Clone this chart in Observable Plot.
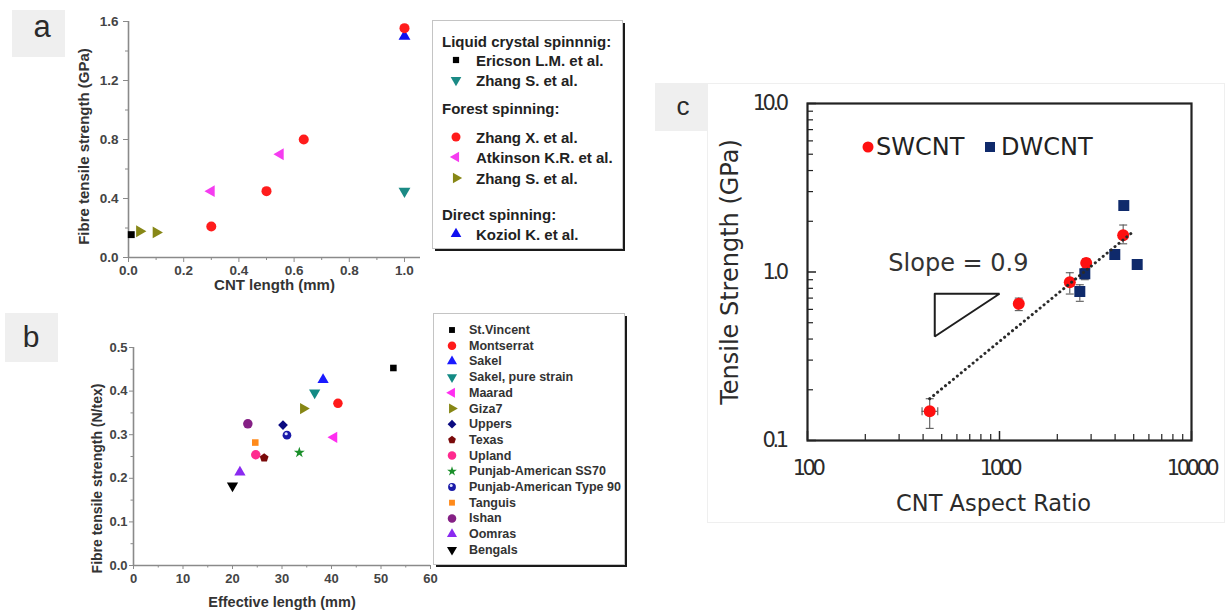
<!DOCTYPE html>
<html>
<head>
<meta charset="utf-8">
<script src="https://cdn.jsdelivr.net/npm/d3@7"></script>
<script src="https://cdn.jsdelivr.net/npm/@observablehq/plot@0.6"></script>
<style>
  html, body { margin: 0; padding: 0; background: #fff; }
  #fig { position: relative; width: 1225px; height: 611px; overflow: hidden; background: #fff; }
  #fig > svg { position: absolute; }
</style>
</head>
<body>
<div id="fig"></div>
<script>
// ---------- Panel a: CNT fibres — CNT length vs fibre tensile strength ----------
const aGroups = ["Liquid crystal spinnnig:", "Forest spinning:", "Direct spinning:"];
const aSeries = ["Ericson L.M. et al.", "Zhang S. et al.", "Zhang X. et al.", "Atkinson K.R. et al.", "Zhang S. et al.", "Koziol K. et al."];
const aSeriesGroup = [0, 0, 1, 1, 1, 2];
const aLength = [[0.01], [1.0], [0.3, 0.5, 0.635, 1.0], [0.3, 0.55], [0.04, 0.1], [1.0]];
const aStrength = [[0.155], [0.45], [0.21, 0.45, 0.8, 1.555], [0.45, 0.70], [0.178, 0.17], [1.5]];
const aSymbols = ["square", "triangleDown", "circle", "triangleLeft", "triangleRight", "triangleUp"];
const aColors = ["#000000", "#1b8a85", "#ff1c1c", "#f53cf0", "#878716", "#1010f0"];
const aTicksX = [0, 0.2, 0.4, 0.6, 0.8, 1.0];
const aMinorX = [0.1, 0.3, 0.5, 0.7, 0.9];
const aTicksY = [0, 0.4, 0.8, 1.2, 1.6];
const aMinorY = [0.2, 0.6, 1.0, 1.4];

// ---------- Panel b: cotton varieties — effective length vs fibre tensile strength ----------
const bSamples = ["St.Vincent", "Montserrat", "Sakel", "Sakel, pure strain", "Maarad", "Giza7", "Uppers", "Texas", "Upland",
  "Punjab-American SS70", "Punjab-American Type 90", "Tanguis", "Ishan", "Oomras", "Bengals"];
const bLength = [52.5, 41.3, 38.3, 36.6, 40.5, 34.3, 30.2, 26.4, 24.7, 33.5, 31.0, 24.6, 23.1, 21.5, 20.0];
const bStrength = [0.453, 0.372, 0.426, 0.396, 0.294, 0.360, 0.322, 0.247, 0.254, 0.259, 0.299, 0.282, 0.325, 0.214, 0.183];
const bSymbols = ["square", "circle", "triangleUp", "triangleDown", "triangleLeft", "triangleRight", "diamond", "pentagon",
  "circle", "star", "sphere", "square", "circle", "triangleUp", "triangleDown"];
const bColors = ["#000000", "#ff1a1a", "#1a1aff", "#138a84", "#ff2ef0", "#868614", "#0a0a80", "#7a0a0a",
  "#ff2a8f", "#1a8f2a", "#1a1aa8", "#ff8a1a", "#852085", "#8a2af0", "#000000"];
const bTicksX = [0, 10, 20, 30, 40, 50, 60];
const bMinorX = [5, 15, 25, 35, 45, 55];
const bTicksY = [0, 0.1, 0.2, 0.3, 0.4, 0.5];
const bMinorY = [0.05, 0.15, 0.25, 0.35, 0.45];

// ---------- Panel c: CNT aspect ratio vs tensile strength (log–log) ----------
const swAspect = [433, 1260, 2323, 2829, 4407];
const swStrength = [0.149, 0.647, 0.870, 1.13, 1.65];
const swLow = [0.118, 0.59, 0.74, 1.05, 1.47];
const swHigh = [0.177, 0.70, 0.99, 1.20, 1.90];
const swAspectLow = [395, 1260, 2323, 2829, 4407];
const swAspectHigh = [477, 1260, 2323, 2829, 4407];
const dwAspect = [2620, 2782, 3986, 4440, 5214];
const dwStrength = [0.766, 0.976, 1.27, 2.48, 1.108];
const dwLow = [0.67, 0.90, 1.27, 2.48, 1.108];
const dwHigh = [0.84, 1.05, 1.27, 2.48, 1.108];
const fitAspect = [433, 5006];
const fitStrength = [0.177, 1.747];
const slopeTriAspect = [460, 1000, 460, 460];
const slopeTriStrength = [0.743, 0.743, 0.414, 0.743];
const slopeNote = [{aspect: 611, strength: 1.13, text: "Slope = 0.9"}];
const cTicksX = [100, 1000, 10000];
const cMinorX = [200, 300, 400, 500, 600, 700, 800, 900, 2000, 3000, 4000, 5000, 6000, 7000, 8000, 9000];
const cTicksY = [0.1, 1, 10];
const cMinorY = [0.2, 0.3, 0.4, 0.5, 0.6, 0.7, 0.8, 0.9, 2, 3, 4, 5, 6, 7, 8, 9];
const cLegend = ["SWCNT", "DWCNT"];
const cColors = ["#ff1010", "#0f2a6b"];

// ---------- marker shapes ----------
const SQ3 = Math.sqrt(3);
function triangleAt(deg) {
  return {
    draw(ctx, size) {
      const R = 2 * Math.sqrt(size / (3 * SQ3));
      [0, 120, 240].forEach((a, i) => {
        const t = (deg + a) * Math.PI / 180;
        const x = R * Math.cos(t), y = R * Math.sin(t);
        i ? ctx.lineTo(x, y) : ctx.moveTo(x, y);
      });
      ctx.closePath();
    }
  };
}
const pentagonShape = {
  draw(ctx, size) {
    const R = Math.sqrt(size / (2.5 * Math.sin(2 * Math.PI / 5)));
    for (let i = 0; i < 5; ++i) {
      const t = -Math.PI / 2 + i * 2 * Math.PI / 5;
      i ? ctx.lineTo(R * Math.cos(t), R * Math.sin(t)) : ctx.moveTo(R * Math.cos(t), R * Math.sin(t));
    }
    ctx.closePath();
  }
};
const diamondShape = {
  draw(ctx, size) {
    const R = Math.sqrt(size / 2);
    ctx.moveTo(0, -R); ctx.lineTo(R, 0); ctx.lineTo(0, R); ctx.lineTo(-R, 0); ctx.closePath();
  }
};
const capH = {draw(ctx, size) { const w = Math.sqrt(size) / 2; ctx.moveTo(-w, 0); ctx.lineTo(w, 0); }};
const capV = {draw(ctx, size) { const w = Math.sqrt(size) / 2; ctx.moveTo(0, -w); ctx.lineTo(0, w); }};
const shapes = {
  square: d3.symbolSquare, circle: d3.symbolCircle, sphere: d3.symbolCircle, star: d3.symbolStar,
  triangleUp: triangleAt(-90), triangleDown: triangleAt(90), triangleLeft: triangleAt(180), triangleRight: triangleAt(0),
  diamond: diamondShape, pentagon: pentagonShape
};
const shapeRadius = {square: 3.9, circle: 5, sphere: 4.6, star: 3.6, triangleUp: 4.4, triangleDown: 4.4,
  triangleLeft: 4.4, triangleRight: 4.4, diamond: 4.1, pentagon: 4.2};

const fig = document.getElementById("fig");
const arialBold = "'Liberation Sans', Arial, Helvetica, sans-serif";
const axisGray = "#8a8a8a";

// ---------- draw panel a ----------
const aTable = aSeries.map((name, i) => aLength[i].map((x, j) => ({x, y: aStrength[i][j]})));
const aDrawOrder = [5, 0, 1, 3, 4, 2];
const plotA = Plot.plot({
  width: 430, height: 300, marginLeft: 128, marginRight: 10, marginTop: 21, marginBottom: 43,
  x: {domain: [0, 1.058], label: null},
  y: {domain: [0, 1.6], label: null},
  style: {fontFamily: arialBold, fontWeight: "bold", background: "transparent", color: "#444", overflow: "visible"},
  marks: [
    Plot.axisY(aMinorY, {tickSize: 3, stroke: axisGray, fill: "none", label: null}),
    Plot.axisY({ticks: aTicksY, tickSize: 5, tickPadding: 5, tickFormat: d3.format(".1f"), stroke: axisGray, fill: "#444", fontSize: 13.5, label: null}),
    Plot.axisX(aMinorX, {tickSize: 3, stroke: axisGray, fill: "none", label: null}),
    Plot.axisX({ticks: aTicksX, tickSize: 5, tickPadding: 3, tickFormat: d3.format(".1f"), stroke: axisGray, fill: "#444", fontSize: 13.5, label: null}),
    Plot.ruleX([0], {stroke: axisGray, strokeWidth: 1.6}),
    Plot.ruleY([0], {stroke: axisGray, strokeWidth: 1.6}),
    ...aDrawOrder.map(i => Plot.dot(aTable[i], {x: "x", y: "y", symbol: shapes[aSymbols[i]], r: shapeRadius[aSymbols[i]], fill: aColors[i], stroke: "none"})),
    Plot.text(["Fibre tensile strength (GPa)"], {text: d => d, frameAnchor: "left", textAnchor: "middle", dx: -44, dy: 7, rotate: -90, fontSize: 15, fill: "#333"}),
    Plot.text(["CNT length (mm)"], {text: d => d, frameAnchor: "bottom", textAnchor: "middle", dy: 28, lineAnchor: "middle", fontSize: 15, fill: "#333"})
  ]
});
plotA.style.left = "0px"; plotA.style.top = "0px";
fig.appendChild(plotA);

// ---------- draw panel b ----------
const bTable = bSamples.map((name, i) => ({name, x: bLength[i], y: bStrength[i]}));
const bDrawOrder = d3.range(bSamples.length).reverse();
const plotB = Plot.plot({
  width: 440, height: 311, marginLeft: 133, marginRight: 10, marginTop: 47, marginBottom: 46,
  x: {domain: [0, 60], label: null},
  y: {domain: [0, 0.5], label: null},
  style: {fontFamily: arialBold, fontWeight: "bold", background: "transparent", color: "#444", overflow: "visible"},
  marks: [
    Plot.axisY(bMinorY, {tickSize: 2.5, stroke: axisGray, fill: "none", label: null}),
    Plot.axisY({ticks: bTicksY, tickSize: 4, tickPadding: 2, tickFormat: d3.format(".1f"), stroke: axisGray, fill: "#444", fontSize: 13, label: null}),
    Plot.axisX(bMinorX, {tickSize: 2.5, stroke: axisGray, fill: "none", label: null}),
    Plot.axisX({ticks: bTicksX, tickSize: 4, tickPadding: 4, stroke: axisGray, fill: "#444", fontSize: 13, label: null}),
    Plot.ruleX([0], {stroke: axisGray, strokeWidth: 1.6}),
    Plot.ruleY([0], {stroke: axisGray, strokeWidth: 1.6}),
    ...bDrawOrder.map(i => Plot.dot([bTable[i]], {x: "x", y: "y", symbol: shapes[bSymbols[i]], r: shapeRadius[bSymbols[i]] * 0.95, fill: bColors[i], stroke: "none"})),
    Plot.dot(bTable.filter((d, i) => bSymbols[i] === "sphere"), {x: "x", y: "y", r: 1.6, dx: -0.8, dy: -1.4, fill: "#dfe3ff", stroke: "none"}),
    Plot.text(["Fibre tensile strength (N/tex)"], {text: d => d, frameAnchor: "left", textAnchor: "middle", dx: -36, dy: 22, rotate: -90, fontSize: 14, fill: "#333"}),
    Plot.text(["Effective length (mm)"], {text: d => d, frameAnchor: "bottom", textAnchor: "middle", dy: 37, lineAnchor: "middle", fontSize: 14.5, fill: "#333"})
  ]
});
plotB.style.left = "0px"; plotB.style.top = "300px";
fig.appendChild(plotB);

// ---------- draw panel c ----------
const cW = 525, cH = 460, cML = 107, cMR = 34, cMT = 23, cMB = 100;
const cFrameW = cW - cML - cMR, cFrameH = cH - cMT - cMB;
const swTable = swAspect.map((x, i) => ({x, y: swStrength[i], lo: swLow[i], hi: swHigh[i], xlo: swAspectLow[i], xhi: swAspectHigh[i]}));
const dwTable = dwAspect.map((x, i) => ({x, y: dwStrength[i], lo: dwLow[i], hi: dwHigh[i]}));
const yErr = [...swTable, ...dwTable].filter(d => d.hi > d.lo);
const xErr = swTable.filter(d => d.xhi > d.xlo);
const fitTable = fitAspect.map((x, i) => ({x, y: fitStrength[i]}));
const triTable = slopeTriAspect.map((x, i) => ({x, y: slopeTriStrength[i]}));
const errColor = "#5a5a5a";
const plotC = Plot.plot({
  width: cW, height: cH, marginLeft: cML, marginRight: cMR, marginTop: cMT, marginBottom: cMB,
  x: {type: "log", domain: [100, 10000], label: null},
  y: {type: "log", domain: [0.1, 10], label: null},
  style: {fontFamily: "'DejaVu Sans', Verdana, sans-serif", background: "transparent", color: "#2b2b2b", overflow: "visible"},
  marks: [
    Plot.tickX(cMinorX, {x: d => d, stroke: "#222", strokeWidth: 1.2, insetTop: cFrameH - 6}),
    Plot.tickX(cTicksX, {x: d => d, stroke: "#222", strokeWidth: 1.5, insetTop: cFrameH - 9}),
    Plot.tickY(cMinorY, {y: d => d, stroke: "#222", strokeWidth: 1.2, insetRight: cFrameW - 6}),
    Plot.tickY(cTicksY, {y: d => d, stroke: "#222", strokeWidth: 1.5, insetRight: cFrameW - 9}),
    Plot.frame({stroke: "#222", strokeWidth: 2.2}),
    Plot.axisX({ticks: cTicksX, tickSize: 0, tickPadding: 20, tickFormat: d => String(d), fontSize: 21, fill: "#2b2b2b", label: null}),
    Plot.axisY({ticks: cTicksY, tickSize: 0, tickPadding: 22, tickFormat: d3.format(".1f"), fontSize: 21, fill: "#2b2b2b", label: null}),
    Plot.line(triTable, {x: "x", y: "y", stroke: "#1e1e1e", strokeWidth: 2, strokeLinejoin: "miter"}),
    Plot.text(slopeNote, {x: "aspect", y: "strength", text: "text", fontSize: 24, fill: "#333"}),
    Plot.ruleX(yErr, {x: "x", y1: "lo", y2: "hi", stroke: errColor, strokeWidth: 1.1}),
    Plot.dot(yErr.flatMap(d => [{x: d.x, y: d.lo}, {x: d.x, y: d.hi}]), {x: "x", y: "y", symbol: capH, r: 4.5, fill: "none", stroke: errColor, strokeWidth: 1.1}),
    Plot.ruleY(xErr, {y: "y", x1: "xlo", x2: "xhi", stroke: errColor, strokeWidth: 1.1}),
    Plot.dot(xErr.flatMap(d => [{x: d.xlo, y: d.y}, {x: d.xhi, y: d.y}]), {x: "x", y: "y", symbol: capV, r: 4.5, fill: "none", stroke: errColor, strokeWidth: 1.1}),
    Plot.dot(swTable, {x: "x", y: "y", symbol: "circle", r: 6, fill: cColors[0], stroke: "none"}),
    Plot.dot(dwTable, {x: "x", y: "y", symbol: "square", r: 6.2, fill: cColors[1], stroke: "none"}),
    Plot.line(fitTable, {x: "x", y: "y", stroke: "#2a2a2a", strokeWidth: 3, strokeDasharray: "0.1 5", strokeLinecap: "round"}),
    Plot.text(["Tensile Strength (GPa)"], {text: d => d, frameAnchor: "left", textAnchor: "middle", dx: -77, rotate: -90, fontSize: 24, fill: "#2b2b2b"}),
    Plot.text(["CNT Aspect Ratio"], {text: d => d, frameAnchor: "bottom", textAnchor: "middle", dx: -6, dy: 63, lineAnchor: "middle", fontSize: 22.5, fill: "#2b2b2b"})
  ]
});
plotC.querySelectorAll('[aria-label="x-axis tick label"] text, [aria-label="y-axis tick label"] text')
  .forEach(t => { t.style.letterSpacing = "-3.5px"; });
plotC.style.left = "700px"; plotC.style.top = "80px";
fig.appendChild(plotC);

// ---------- panel tags, legends ----------
const over = d3.select(fig).append("svg")
  .attr("width", 1225).attr("height", 611)
  .style("left", "0px").style("top", "0px").style("pointer-events", "none");

// faint outline around panel c
over.append("rect").attr("x", 707.5).attr("y", 83.5).attr("width", 517).attr("height", 439)
  .attr("fill", "none").attr("stroke", "#efefef");

function tag(label, x, y, w, h, tx, ty, fs) {
  over.append("rect").attr("x", x).attr("y", y).attr("width", w).attr("height", h).attr("fill", "#efefef");
  over.append("text").attr("x", tx).attr("y", ty).attr("text-anchor", "middle")
    .attr("font-family", "'Liberation Sans', Arial, sans-serif").attr("font-size", fs).attr("fill", "#2a2a2a").text(label);
}
tag("a", 12, 10, 53, 47, 42, 37, 31);
tag("b", 5, 313, 53, 49, 31, 347, 30);
tag("c", 655, 83, 52, 48, 683, 115, 26);

function legendBox(x, y, w, h) {
  over.append("rect").attr("x", x + 3).attr("y", y + 3).attr("width", w).attr("height", h).attr("fill", "#1a1a1a");
  over.append("rect").attr("x", x + 0.5).attr("y", y + 0.5).attr("width", w).attr("height", h)
    .attr("fill", "#fff").attr("stroke", "#c4c4c4");
}
function legendGlyph(cx, cy, shapeName, color, r) {
  over.append("path").attr("transform", `translate(${cx},${cy})`)
    .attr("d", d3.symbol(shapes[shapeName], Math.PI * r * r)()).attr("fill", color);
  if (shapeName === "sphere") {
    over.append("circle").attr("cx", cx - 0.8).attr("cy", cy - 1.4).attr("r", 1.5).attr("fill", "#dfe3ff");
  }
}
function legendText(x, y, str, fs, color) {
  over.append("text").attr("x", x).attr("y", y).attr("dominant-baseline", "central")
    .attr("font-family", arialBold).attr("font-weight", "bold").attr("font-size", fs)
    .attr("fill", color).text(str);
}

// legend a: grouped by spinning method
legendBox(432, 20, 190, 228);
const aHeaderY = [41, 108, 214];
const aItemY = [60, 80, 137, 157, 178, 234];
aGroups.forEach((g, k) => legendText(442, aHeaderY[k], g, 15, "#222"));
aSeries.forEach((s, i) => {
  legendGlyph(456, aItemY[i], aSymbols[i], aColors[i], shapeRadius[aSymbols[i]] * 0.9);
  legendText(476, aItemY[i], s, 15, "#222");
});

// legend b: one row per cotton variety
legendBox(433, 313, 191, 251);
bSamples.forEach((s, i) => {
  const y = 330 + i * 15.7;
  legendGlyph(452, y, bSymbols[i], bColors[i], shapeRadius[bSymbols[i]] * 0.85);
  legendText(469, y, s, 12.5, "#333");
});

// legend c: inline key above the data
const cKeyFont = "'DejaVu Sans', Verdana, sans-serif";
over.append("circle").attr("cx", 868).attr("cy", 147).attr("r", 5.5).attr("fill", cColors[0]);
over.append("text").attr("x", 876).attr("y", 147).attr("dominant-baseline", "central")
  .attr("font-family", cKeyFont).attr("font-size", 24).attr("fill", "#222").text(cLegend[0]);
over.append("rect").attr("x", 985).attr("y", 142).attr("width", 10).attr("height", 10).attr("fill", cColors[1]);
over.append("text").attr("x", 1001).attr("y", 147).attr("dominant-baseline", "central")
  .attr("font-family", cKeyFont).attr("font-size", 24).attr("fill", "#222").text(cLegend[1]);
</script>
</body>
</html>
